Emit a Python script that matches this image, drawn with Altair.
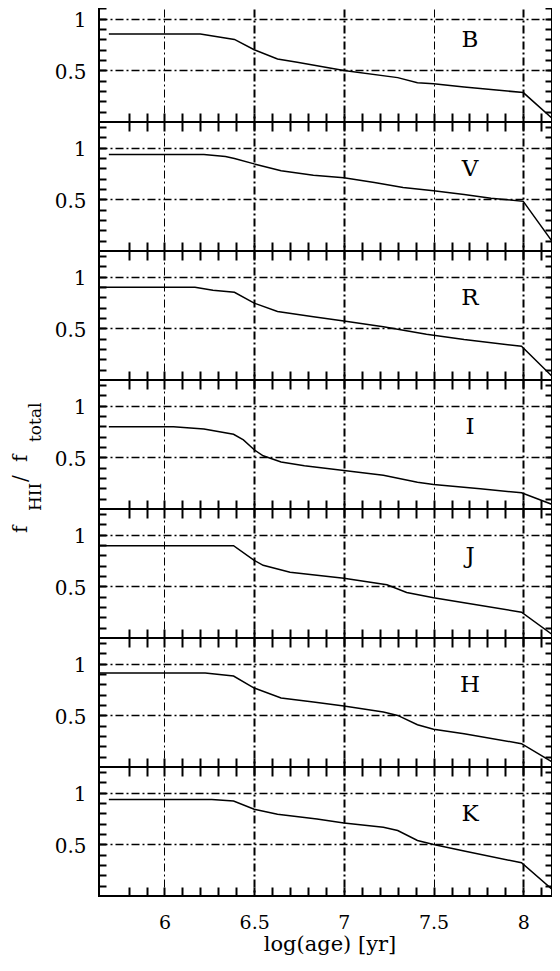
import altair as alt
import pandas as pd

# ---------------- data ----------------
bands = ["B", "V", "R", "I", "J", "H", "K"]

x_B = [5.69, 6.20, 6.39, 6.50, 6.63, 6.74, 7.00, 7.30, 7.41, 7.50, 7.67, 7.85, 8.00, 8.17]
f_B = [0.852, 0.852, 0.80, 0.70, 0.61, 0.58, 0.50, 0.43, 0.38, 0.37, 0.34, 0.31, 0.285, 0.02]

x_V = [5.69, 6.22, 6.34, 6.39, 6.50, 6.65, 6.83, 7.00, 7.17, 7.33, 7.50, 7.67, 7.82, 8.00, 8.17]
f_V = [0.934, 0.934, 0.916, 0.897, 0.844, 0.778, 0.734, 0.709, 0.663, 0.616, 0.584, 0.547, 0.512, 0.481, 0.07]

x_R = [5.64, 6.17, 6.27, 6.39, 6.50, 6.63, 6.83, 7.00, 7.22, 7.46, 7.67, 7.99, 8.17]
f_R = [0.899, 0.899, 0.870, 0.850, 0.745, 0.663, 0.614, 0.572, 0.516, 0.444, 0.392, 0.327, 0.02]

x_I = [5.69, 6.05, 6.22, 6.385, 6.44, 6.50, 6.55, 6.65, 6.78, 7.00, 7.22, 7.41, 7.50, 7.76, 7.99, 8.17]
f_I = [0.798, 0.798, 0.776, 0.724, 0.67, 0.574, 0.516, 0.455, 0.42, 0.372, 0.327, 0.26, 0.237, 0.196, 0.157, 0.038]

x_J = [5.64, 6.385, 6.50, 6.55, 6.70, 7.00, 7.24, 7.35, 7.50, 7.67, 7.99, 8.17]
f_J = [0.895, 0.895, 0.753, 0.704, 0.638, 0.579, 0.516, 0.441, 0.391, 0.342, 0.25, 0.023]

x_H = [5.64, 6.227, 6.385, 6.50, 6.65, 6.83, 7.00, 7.22, 7.30, 7.41, 7.50, 7.67, 7.99, 8.17]
f_H = [0.91, 0.91, 0.881, 0.765, 0.668, 0.629, 0.59, 0.532, 0.50, 0.41, 0.365, 0.323, 0.226, 0.039]

x_K = [5.69, 6.264, 6.385, 6.50, 6.63, 6.85, 7.00, 7.22, 7.30, 7.41, 7.50, 7.67, 7.99, 8.17]
f_K = [0.936, 0.936, 0.92, 0.841, 0.793, 0.745, 0.707, 0.666, 0.634, 0.538, 0.50, 0.436, 0.322, 0.051]

series = {"B": (x_B, f_B), "V": (x_V, f_V), "R": (x_R, f_R), "I": (x_I, f_I),
          "J": (x_J, f_J), "H": (x_H, f_H), "K": (x_K, f_K)}

x_labels = [6, 6.5, 7, 7.5, 8]
y_labels = [0.5, 1]
x_title = "log(age) [yr]"

# ---------------- layout / style ----------------
W, H = 453, 129
SERIF = "DejaVu Serif"
DASH = [8, 3, 2, 3]
xs = alt.Scale(domain=[5.635, 8.16], nice=False, zero=False)
ys = alt.Scale(domain=[0, 1.25], nice=False, zero=False)
minor_x = [round(5.8 + 0.1 * i, 1) for i in range(24)]
minor_y = [round(0.1 * i, 1) for i in range(1, 13)]

NOAX = dict(labels=False, domain=False, title=None, minExtent=0, maxExtent=200)


def tick_axis(orient, values, offset, size):
    return alt.Axis(orient=orient, values=values, offset=offset, ticks=True, tickSize=size,
                    tickWidth=2, tickColor="black", grid=False, **NOAX)


def grid_axis(orient, values, width):
    return alt.Axis(orient=orient, values=values, grid=True, gridColor="black", gridWidth=width,
                    gridDash=DASH, gridOpacity=1, ticks=False, tickSize=0, **NOAX)


ONE = alt.Data(values=[{}])


def text_at(txt, px, py, fs, **kw):
    return alt.Chart(ONE).mark_text(text=txt, font=SERIF, fontSize=fs, color="black", **kw).encode(
        x=alt.value(px), y=alt.value(py))


def panel(band, last, title_layer=False):
    xv, fv = series[band]
    df = pd.DataFrame({"x": xv, "f": fv})
    base = alt.Chart(df)
    line = base.mark_line(color="black", strokeWidth=1.5, clip=True).encode(
        x=alt.X("x:Q", scale=xs, axis=grid_axis("bottom", [6.5, 7, 8], 2)),
        y=alt.Y("f:Q", scale=ys, axis=alt.Axis(
            orient="left", values=y_labels, format="~g", grid=True, gridColor="black",
            gridWidth=1.5, gridDash=DASH, gridOpacity=1, ticks=False, tickSize=0,
            domain=False, labels=True, labelFont=SERIF, labelFontSize=20, labelColor="black",
            labelPadding=13, labelOffset=2, title=None, minExtent=0, maxExtent=200)),
    )
    l2 = base.mark_point(opacity=0, size=0).encode(
        x=alt.X("x:Q", scale=xs, axis=grid_axis("bottom", [6, 7.5], 1)),
        y=alt.Y("f:Q", scale=ys, axis=tick_axis("right", minor_y, -W, 7)),
    )
    l3 = base.mark_point(opacity=0, size=0).encode(
        x=alt.X("x:Q", scale=xs, axis=tick_axis("top", minor_x, -H, 9)),
        y=alt.Y("f:Q", scale=ys, axis=tick_axis("left", minor_y, -W, 7)),
    )
    l4 = base.mark_point(opacity=0, size=0).encode(
        x=alt.X("x:Q", scale=xs, axis=tick_axis("bottom", minor_x, -H, 9)),
        y=alt.Y("f:Q", scale=ys, axis=None),
    )
    lab = text_at(band, 371, 47, 23, align="center", baseline="middle")
    layers = [line, l2, l3, l4, lab]
    if last:
        l5 = base.mark_point(opacity=0, size=0).encode(
            x=alt.X("x:Q", scale=xs, axis=alt.Axis(
                orient="bottom", values=x_labels, format="~g", ticks=False, tickSize=0,
                domain=False, grid=False, labels=True, labelFont=SERIF, labelFontSize=19,
                labelColor="black", labelPadding=17, title=None, minExtent=0, maxExtent=200)),
            y=alt.Y("f:Q", scale=ys, axis=None),
        )
        layers.append(l5)
        layers.append(text_at(x_title, 231, 184, 21, align="center", baseline="alphabetic"))
    if title_layer:
        parts = [("f", 20, -72, 153), ("HII", 17, -58, 131), ("/", 20, -72, 102),
                 ("f", 20, -72, 82), ("total", 17, -58, 62)]
        for txt, fs, px, py in parts:
            layers.append(text_at(txt, px, py, fs, angle=270, align="left", baseline="alphabetic"))
    return alt.layer(*layers).properties(width=W, height=H)


panels = [panel(b, last=(i == len(bands) - 1), title_layer=(i == 3)) for i, b in enumerate(bands)]

chart = alt.vconcat(*panels, spacing=0, bounds="flush").properties(
    padding={"left": 2, "top": -17, "right": -3, "bottom": 0},
    background="white",
).configure_view(stroke="black", strokeWidth=2)

chart.save("out.html", embed_options={"renderer": "svg", "actions": False})
